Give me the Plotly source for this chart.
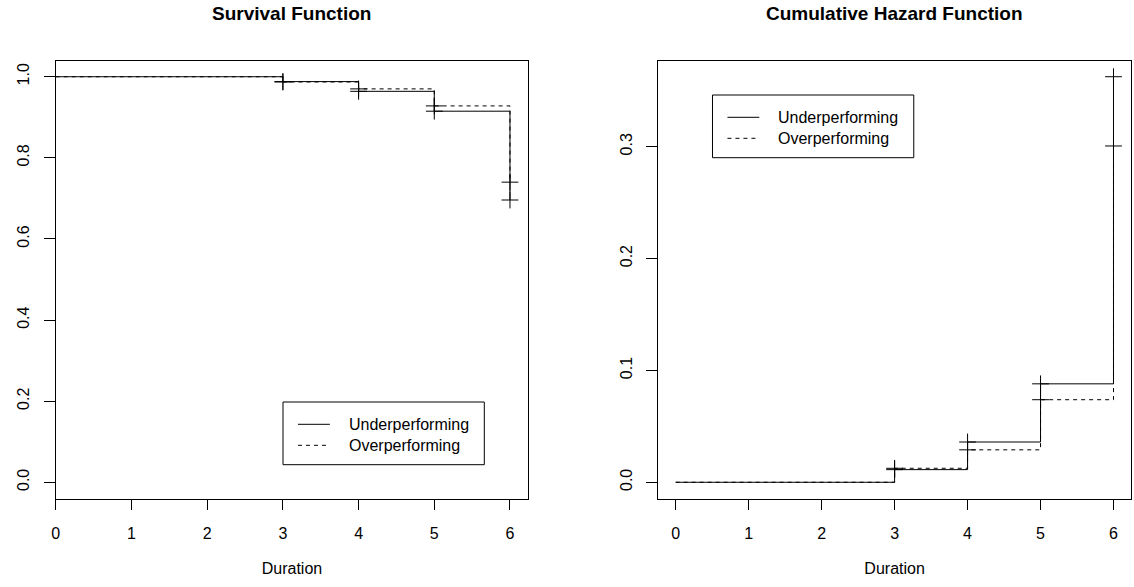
import plotly.graph_objects as go

# ---------------- data ----------------
times = [0, 3, 4, 5, 6]
mark_times = [3, 4, 5, 6]

surv_under = [1.0, 0.988, 0.964, 0.915, 0.696]
surv_over = [1.0, 0.987, 0.970, 0.928, 0.740]

haz_under = [0.0, 0.0113, 0.036, 0.088, 0.3625]
haz_over = [0.0, 0.0125, 0.029, 0.0738, 0.3006]

series_names = ["Underperforming", "Overperforming"]
x_ticks = [0, 1, 2, 3, 4, 5, 6]
surv_yticks = [0.0, 0.2, 0.4, 0.6, 0.8, 1.0]
haz_yticks = [0.0, 0.1, 0.2, 0.3]
titles = ["Survival Function", "Cumulative Hazard Function"]
x_title = "Duration"

# ---------------- layout helpers ----------------
W, H = 1134, 587
FONT = "Liberation Sans, Arial, Helvetica, sans-serif"


def px(x):
    return x / W


def py(y):
    return 1 - y / H


BOX_TOP, BOX_BOTTOM = 60.5, 498.5
LEFT_BOX = (52, 526)
RIGHT_BOX = (656.5, 1131)

fig = go.Figure()

dash_styles = ["solid", "4px,4px"]


def add_curves(xa, ya, values_list):
    for vals, dash, name in zip(values_list, dash_styles, series_names):
        fig.add_trace(go.Scatter(
            x=times, y=vals, mode="lines", line_shape="hv", name=name,
            line=dict(color="black", width=1, dash=dash),
            xaxis=xa, yaxis=ya, showlegend=False, hoverinfo="skip"))
        fig.add_trace(go.Scatter(
            x=mark_times, y=vals[1:], mode="markers", name=name + " (censored)",
            marker=dict(symbol="cross-thin", size=12, color="black",
                        line=dict(color="black", width=1)),
            xaxis=xa, yaxis=ya, showlegend=False, hoverinfo="skip"))


add_curves("x", "y", [surv_under, surv_over])
add_curves("x2", "y2", [haz_under, haz_over])

# axis ranges in R style
xmax = max(times)
surv_yrange = [0 - 0.04 * 1.0, 1.0 + 0.04 * 1.0]
hmin, hmax = 0.0, max(haz_under + haz_over)
hpad = 0.04 * (hmax - hmin)
haz_yrange = [hmin - hpad, hmax + hpad]

axis_common = dict(
    showline=True, linecolor="black", linewidth=1, mirror=True,
    ticks="outside", tickcolor="black", tickwidth=1,
    showgrid=False, zeroline=False,
    tickfont=dict(family=FONT, size=16, color="black"),
)

fig.update_layout(
    width=W, height=H,
    margin=dict(l=0, r=0, t=0, b=0),
    paper_bgcolor="white", plot_bgcolor="white",
    font=dict(family=FONT, size=16, color="black"),
    showlegend=False,
    xaxis=dict(domain=[px(LEFT_BOX[0]), px(LEFT_BOX[1])],
               range=[0, xmax * 1.04], tickvals=x_ticks, ticklen=10,
               ticklabelstandoff=10, anchor="y",
               title=dict(text=x_title, standoff=22,
                          font=dict(family=FONT, size=16, color="black")),
               **axis_common),
    yaxis=dict(domain=[py(BOX_BOTTOM), py(BOX_TOP)],
               range=surv_yrange, tickvals=surv_yticks, tickformat=".1f",
               tickangle=-90, ticklen=11, ticklabelstandoff=8, anchor="x",
               **axis_common),
    xaxis2=dict(domain=[px(RIGHT_BOX[0]), px(RIGHT_BOX[1])],
                range=[-0.04 * xmax, xmax * 1.04], tickvals=x_ticks, ticklen=10,
                ticklabelstandoff=10, anchor="y2",
                title=dict(text=x_title, standoff=22,
                           font=dict(family=FONT, size=16, color="black")),
                **axis_common),
    yaxis2=dict(domain=[py(BOX_BOTTOM), py(BOX_TOP)],
                range=haz_yrange, tickvals=haz_yticks, tickformat=".1f",
                tickangle=-90, ticklen=11, ticklabelstandoff=8, anchor="x2",
                **axis_common),
)

# titles
for (x0, x1), t in zip([LEFT_BOX, RIGHT_BOX], titles):
    fig.add_annotation(
        x=px((x0 + x1) / 2), y=py(13), xref="paper", yref="paper",
        text="<b>" + t + "</b>", showarrow=False,
        xanchor="center", yanchor="middle",
        font=dict(family=FONT, size=19, color="black"))


# legends (drawn as framed boxes with line samples and labels)
def add_legend(left, top):
    width, height = 202, 62.7
    fig.add_shape(type="rect", xref="paper", yref="paper",
                  x0=px(left), x1=px(left + width),
                  y0=py(top + height), y1=py(top),
                  line=dict(color="black", width=1), fillcolor="white")
    for i, (name, dash) in enumerate(zip(series_names, dash_styles)):
        yy = top + 22.3 + 21 * i
        fig.add_shape(type="line", xref="paper", yref="paper",
                      x0=px(left + 15), x1=px(left + 47),
                      y0=py(yy), y1=py(yy),
                      line=dict(color="black", width=1, dash=dash))
        fig.add_annotation(x=px(left + 64), y=py(yy), xref="paper", yref="paper",
                           text=name, showarrow=False, xanchor="left",
                           yanchor="middle",
                           font=dict(family=FONT, size=16, color="black"))


add_legend(280, 402)
add_legend(711, 95)

fig.write_html("out.html",
               config={"displayModeBar": False},
               post_script="document.body.style.margin='0';document.body.style.padding='0';document.body.style.overflow='hidden';")
